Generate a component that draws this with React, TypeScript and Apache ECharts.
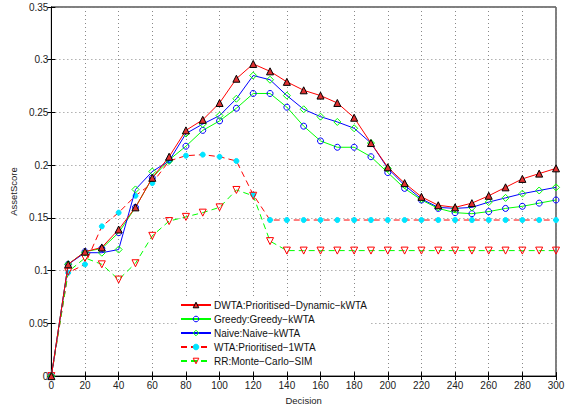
import React, { useEffect, useRef } from "react";
import * as echarts from "echarts";

const decisions = [0, 10, 20, 30, 40, 50, 60, 70, 80, 90, 100, 110, 120, 130, 140, 150, 160, 170, 180, 190, 200, 210, 220, 230, 240, 250, 260, 270, 280, 290, 300];

const dwta = [0, 0.106, 0.118, 0.122, 0.139, 0.16, 0.188, 0.208, 0.233, 0.243, 0.259, 0.282, 0.296, 0.289, 0.279, 0.271, 0.266, 0.259, 0.245, 0.221, 0.198, 0.183, 0.17, 0.162, 0.16, 0.164, 0.171, 0.179, 0.187, 0.192, 0.197];
const greedy = [0, 0.106, 0.118, 0.121, 0.136, 0.16, 0.188, 0.205, 0.218, 0.233, 0.242, 0.254, 0.268, 0.268, 0.255, 0.237, 0.223, 0.217, 0.217, 0.208, 0.193, 0.178, 0.167, 0.159, 0.155, 0.154, 0.156, 0.159, 0.161, 0.164, 0.167];
const naive = [0, 0.106, 0.117, 0.117, 0.12, 0.177, 0.194, 0.204, 0.23, 0.239, 0.247, 0.263, 0.285, 0.281, 0.266, 0.253, 0.246, 0.241, 0.235, 0.221, 0.197, 0.181, 0.168, 0.16, 0.159, 0.16, 0.165, 0.169, 0.173, 0.176, 0.179];
const wta = [0, 0.098, 0.106, 0.142, 0.155, 0.171, 0.183, 0.204, 0.209, 0.21, 0.208, 0.204, 0.172, 0.148, 0.148, 0.148, 0.148, 0.148, 0.148, 0.148, 0.148, 0.148, 0.148, 0.148, 0.148, 0.148, 0.148, 0.148, 0.148, 0.148, 0.148];
const rr = [0, 0.099, 0.112, 0.106, 0.0915, 0.107, 0.133, 0.147, 0.151, 0.155, 0.16, 0.1765, 0.171, 0.128, 0.119, 0.119, 0.119, 0.119, 0.119, 0.119, 0.119, 0.119, 0.119, 0.119, 0.119, 0.119, 0.119, 0.119, 0.119, 0.119, 0.119];

const seriesNames = [
  "DWTA:Prioritised\u2212Dynamic\u2212kWTA",
  "Greedy:Greedy\u2212kWTA",
  "Naive:Naive\u2212kWTA",
  "WTA:Prioritised\u22121WTA",
  "RR:Monte\u2212Carlo\u2212SIM",
];

const FONT = "Liberation Sans";

export default function App() {
  const ref = useRef<HTMLDivElement>(null);
  useEffect(() => {
    if (!ref.current) return;
    const chart = echarts.init(ref.current, null, { renderer: "svg" });
    const pts = (arr: number[]) => decisions.map((d, i) => [d, arr[i]]);
    const axisCommon = {
      type: "value" as const,
      axisLine: { show: true, lineStyle: { color: "#000", width: 1 } },
      axisTick: { show: true, inside: true, length: 4, lineStyle: { color: "#000" } },
    };
    const styles = [
      { item: { color: "#e03030", borderColor: "#000", borderWidth: 1 } },
      { item: { color: "rgba(255,255,255,0)", borderColor: "#0000ff", borderWidth: 1 } },
      { item: { color: "rgba(255,255,255,0)", borderColor: "#00ff00", borderWidth: 1 } },
      { item: { color: "#00e5ff", borderColor: "#00e5ff", borderWidth: 1 } },
      { item: { color: "rgba(255,255,255,0)", borderColor: "#ff0000", borderWidth: 1 } },
    ];
    chart.setOption({
      animation: false,
      backgroundColor: "#fff",
      textStyle: { fontFamily: FONT },
      grid: { left: 51, right: 16, top: 7, bottom: 24, show: true, borderColor: "#000", borderWidth: 1 },
      xAxis: [
        {
          ...axisCommon,
          min: 0,
          max: 300,
          interval: 20,
          name: "Decision",
          nameLocation: "middle",
          nameGap: 18,
          nameTextStyle: { fontFamily: FONT, fontSize: 9.5, color: "#222" },
          axisLabel: { fontFamily: FONT, fontSize: 10, color: "#222", margin: 4 },
          splitLine: { show: true, lineStyle: { color: "#888", type: [1, 3], width: 1 } },
        },
        {
          ...axisCommon,
          position: "top",
          min: 0,
          max: 300,
          interval: 20,
          axisLabel: { show: false },
          splitLine: { show: false },
        },
      ],
      yAxis: [
        {
          ...axisCommon,
          min: 0,
          max: 0.35,
          interval: 0.05,
          name: "AssetScore",
          nameLocation: "middle",
          nameGap: 25,
          nameRotate: 90,
          nameTextStyle: { fontFamily: FONT, fontSize: 9.5, color: "#222" },
          axisLabel: { fontFamily: FONT, fontSize: 10, color: "#222", margin: 3 },
          splitLine: { show: true, lineStyle: { color: "#888", type: [1, 3], width: 1 } },
        },
        {
          ...axisCommon,
          position: "right",
          min: 0,
          max: 0.35,
          interval: 0.05,
          axisLabel: { show: false },
          splitLine: { show: false },
        },
      ],
      legend: {
        orient: "vertical",
        left: 178,
        top: 298,
        itemWidth: 30,
        itemHeight: 7,
        itemGap: 4,
        padding: [2, 4, 2, 2],
        backgroundColor: "#fff",
        textStyle: { fontFamily: FONT, fontSize: 10, color: "#111", padding: [0, 0, 0, -2] },
        data: seriesNames.map((n, i) => ({ name: n, itemStyle: styles[i].item })),
      },
      series: [
        {
          name: seriesNames[0],
          type: "line",
          data: pts(dwta),
          symbol: "triangle",
          symbolSize: 7,
          lineStyle: { color: "#ff0000", width: 1 },
          itemStyle: styles[0].item,
          z: 5,
        },
        {
          name: seriesNames[1],
          type: "line",
          data: pts(greedy),
          symbol: "circle",
          symbolSize: 6,
          lineStyle: { color: "#00ff00", width: 1 },
          itemStyle: styles[1].item,
          z: 4,
        },
        {
          name: seriesNames[2],
          type: "line",
          data: pts(naive),
          symbol: "diamond",
          symbolSize: 7,
          lineStyle: { color: "#0000ff", width: 1 },
          itemStyle: styles[2].item,
          z: 4,
        },
        {
          name: seriesNames[3],
          type: "line",
          data: pts(wta),
          symbol: "circle",
          symbolSize: 5,
          lineStyle: { color: "#ff0000", width: 1, type: [6, 4] },
          itemStyle: styles[3].item,
          z: 3,
        },
        {
          name: seriesNames[4],
          type: "line",
          data: pts(rr),
          symbol: "triangle",
          symbolRotate: 180,
          symbolSize: 7,
          lineStyle: { color: "#00ff00", width: 1, type: [6, 4] },
          itemStyle: styles[4].item,
          z: 3,
        },
      ],
    });
    return () => chart.dispose();
  }, []);
  return <div ref={ref} style={{ width: 572, height: 410, position: "absolute", left: 0, top: 0 }} />;
}
